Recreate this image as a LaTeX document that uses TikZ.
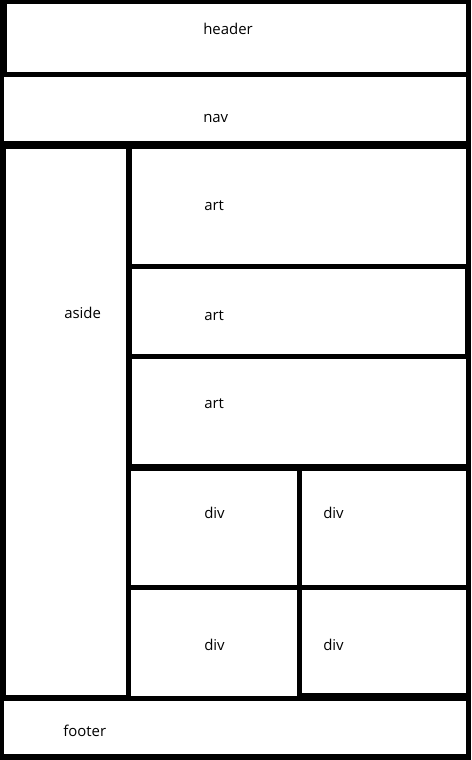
\documentclass[tikz,border=0pt]{standalone}
\usepackage{fontspec}
\setmainfont{Open Sans}
\begin{document}
\begin{tikzpicture}[x=0.75pt,y=-0.75pt,
  cell/.style={fill=white,draw=none},
  lbl/.style={anchor=base west,inner sep=0pt,font=\fontsize{11.2pt}{13pt}\selectfont,text=black}]
\useasboundingbox (0,0) rectangle (471,760);
\fill[black] (0,0) rectangle (471,760);
% cells
\fill[cell] (7,4) rectangle (466,72);      % header
\fill[cell] (4,77) rectangle (466,141);    % nav
\fill[cell] (6,149) rectangle (126,695);   % aside
\fill[cell] (132,149) rectangle (466,264); % art 1
\fill[cell] (132,269) rectangle (465,354); % art 2
\fill[cell] (132,359) rectangle (466,464); % art 3
\fill[cell] (131,471) rectangle (297,585); % div 1
\fill[cell] (302,471) rectangle (466,585); % div 2
\fill[cell] (131,590) rectangle (297,696); % div 3
\fill[cell] (302,590) rectangle (466,693); % div 4
\fill[cell] (4,701) rectangle (466,754);   % footer
% labels
\node[lbl] (header) at (203,34) {header};
\node[lbl] (nav) at (203,122) {nav};
\node[lbl] (aside) at (64,318) {aside};
\node[lbl] (art1) at (204,210) {art};
\node[lbl] (art2) at (204,320) {art};
\node[lbl] (art3) at (204,408) {art};
\node[lbl] (div1) at (204,518) {div};
\node[lbl] (div2) at (323,518) {div};
\node[lbl] (div3) at (204,650) {div};
\node[lbl] (div4) at (323,650) {div};
\node[lbl] (footer) at (63,736) {footer};
\end{tikzpicture}
\end{document}
